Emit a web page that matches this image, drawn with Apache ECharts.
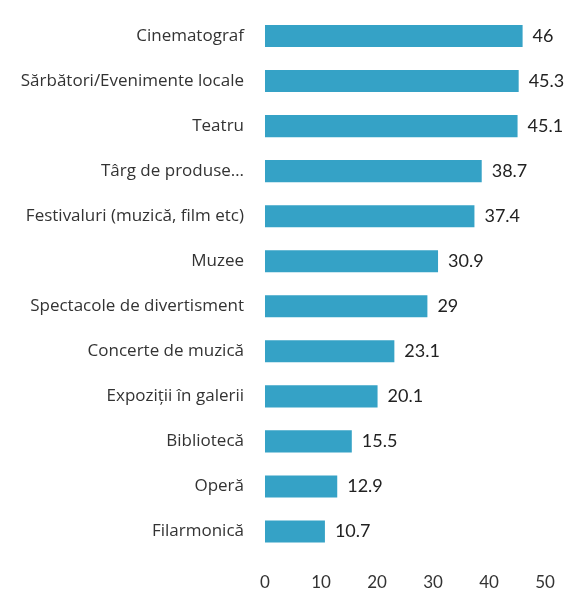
<!DOCTYPE html>
<html><head><meta charset="utf-8">
<script src="https://cdn.jsdelivr.net/npm/echarts@6/dist/echarts.min.js"></script>
<style>html,body{margin:0;padding:0;background:#fff}#c{width:566px;height:593px}</style>
</head><body><div id="c"></div>
<script>
const categories = ["Cinematograf","Sărbători/Evenimente locale","Teatru","Târg de produse…","Festivaluri (muzică, film etc)","Muzee","Spectacole de divertisment","Concerte de muzică","Expoziții în galerii","Bibliotecă","Operă","Filarmonică"];
const values = [46,45.3,45.1,38.7,37.4,30.9,29,23.1,20.1,15.5,12.9,10.7];
const xTicks = [0,10,20,30,40,50];
const chart = echarts.init(document.getElementById('c'));
chart.setOption({
  animation:false,
  grid:{left:265,right:21,top:13.5,bottom:39,containLabel:false},
  xAxis:{type:'value',min:xTicks[0],max:xTicks[xTicks.length-1],interval:10,
    axisLine:{show:false},axisTick:{show:false},splitLine:{show:false},
    axisLabel:{margin:20,fontSize:17,color:'#333',fontFamily:'Lato'}},
  yAxis:{type:'category',data:categories,inverse:true,
    axisLine:{show:false},axisTick:{show:false},
    axisLabel:{margin:21,fontSize:17,color:'#333',fontFamily:'Open Sans'}},
  series:[{type:'bar',data:values,barCategoryGap:'51%',
    itemStyle:{color:'#35a2c6'},
    label:{show:true,position:'right',distance:10,fontSize:18,color:'#222',fontFamily:'Lato'}}]
});
</script></body></html>
